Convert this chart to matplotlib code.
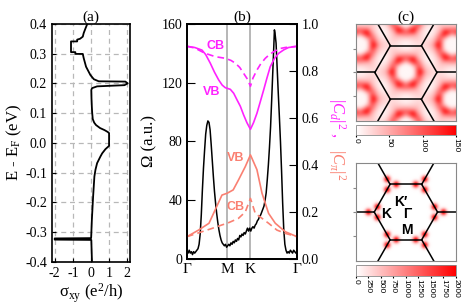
import numpy as np
import matplotlib
matplotlib.use('Agg')
import matplotlib.pyplot as plt
from matplotlib.colors import LinearSegmentedColormap

plt.rcParams['font.family'] = ['Liberation Serif', 'DejaVu Serif']
plt.rcParams['mathtext.fontset'] = 'custom'
plt.rcParams['mathtext.rm'] = 'Liberation Serif'
plt.rcParams['mathtext.it'] = 'Liberation Serif:italic'
plt.rcParams['axes.unicode_minus'] = False

# (a) anomalous Hall conductivity vs energy
energy = [0.400, 0.385, 0.369, 0.357, 0.350, 0.347, 0.341, 0.341, 0.305, 0.305,
          0.299, 0.299, 0.285, 0.256, 0.228, 0.214, 0.207, 0.206, 0.200, 0.194,
          0.190, 0.184, 0.178, 0.150, 0.120, 0.100, 0.080, 0.068, 0.060, 0.050,
          0.043, 0.037, 0.033, -0.010, -0.021, -0.035, -0.046, -0.068, -0.090,
          -0.113, -0.180, -0.259, -0.320, -0.321, -0.325, -0.326, -0.387, -0.400]
sigma_xy = [-0.20, -0.30, -0.40, -0.45, -0.60, -0.76, -0.76, -1.10, -1.10, -0.86,
            -0.86, -0.45, -0.40, -0.27, -0.03, 0.16, 0.43, 1.90, 2.03, 1.85,
            0.34, 0.06, 0.02, 0.03, 0.05, 0.07, 0.10, 0.18, 0.28, 0.50,
            0.75, 0.92, 1.00, 1.00, 0.80, 0.62, 0.52, 0.34, 0.25,
            0.19, 0.12, 0.05, 0.01, -2.00, -2.00, 0.02, 0.05, 0.06]
a_xticks = [-2, -1, 0, 1, 2]
a_yticks = [-0.4, -0.3, -0.2, -0.1, 0.0, 0.1, 0.2, 0.3, 0.4]
a_ylabels = ['-0.4', '-0.3', '-0.2', '-0.1', '0.0', '0.1', '0.2', '0.3', '0.4']

# (b) along Gamma-M-K-Gamma, k given as fraction of the path
k_ticks = [0.0, 0.366, 0.577, 1.0]
k_labels = ['Γ', 'M', 'K', 'Γ']

k_omega = [0.00, 0.01, 0.02, 0.03, 0.04, 0.05, 0.06, 0.07, 0.08, 0.09,
           0.10, 0.11, 0.12, 0.13, 0.14, 0.15, 0.16, 0.17, 0.18, 0.19,
           0.20, 0.21, 0.22, 0.23, 0.24, 0.25, 0.26, 0.27, 0.28, 0.29,
           0.30, 0.31, 0.32, 0.33, 0.34, 0.35, 0.36, 0.37, 0.38, 0.39,
           0.40, 0.41, 0.42, 0.43, 0.44, 0.45, 0.46, 0.47, 0.48, 0.49,
           0.50, 0.51, 0.52, 0.53, 0.54, 0.55, 0.56, 0.57, 0.58, 0.59,
           0.60, 0.61, 0.62, 0.63, 0.64, 0.65, 0.66, 0.67, 0.68, 0.69,
           0.70, 0.71, 0.72, 0.73, 0.74, 0.75, 0.76, 0.77, 0.78, 0.79,
           0.795, 0.80, 0.81, 0.82, 0.83, 0.84, 0.85, 0.86, 0.87, 0.88, 0.89,
           0.90, 0.91, 0.92, 0.93, 0.94, 0.95, 0.96, 0.97, 0.98, 0.99, 1.00]
omega = [5, 4, 6, 4, 5, 3, 5, 4, 5, 6,
         7, 10, 17, 30, 47, 62, 74, 85, 91, 94,
         93, 88, 78, 67, 56, 46, 38, 31, 25, 20,
         16, 13, 11, 10, 9, 10, 8, 9, 10, 9,
         11, 10, 12, 11, 13, 12, 14, 13, 16, 15,
         17, 16, 18, 17, 19, 21, 19, 21, 19, 21,
         22, 21, 23, 24, 26, 27, 29, 30, 32, 34,
         36, 40, 45, 54, 64, 76, 90, 108, 127, 146,
         156, 154, 147, 130, 113, 97, 80, 60, 38, 20, 10,
         6, 4, 5, 4, 6, 5, 4, 6, 5, 4, 5]

k_vb_d = [0.0, 0.07, 0.136, 0.17, 0.212, 0.25, 0.288, 0.32, 0.348, 0.394, 0.425,
          0.455, 0.485, 0.515, 0.545, 0.577, 0.605, 0.636, 0.667, 0.697, 0.727,
          0.757, 0.795, 0.833, 0.88, 0.924, 1.0]
vb_d = [0.905, 0.90, 0.889, 0.87, 0.833, 0.795, 0.762, 0.74, 0.729, 0.722, 0.705,
        0.677, 0.65, 0.613, 0.58, 0.552, 0.58, 0.62, 0.67, 0.719, 0.77,
        0.818, 0.853, 0.875, 0.89, 0.90, 0.905]
k_cb_d = [0.0, 0.07, 0.136, 0.167, 0.257, 0.348, 0.40, 0.44, 0.48, 0.515, 0.55,
          0.577, 0.60, 0.636, 0.67, 0.712, 0.75, 0.788, 0.84, 0.894, 1.0]
cb_d = [0.905, 0.898, 0.882, 0.875, 0.861, 0.854, 0.845, 0.833, 0.815, 0.79, 0.765,
        0.735, 0.77, 0.804, 0.83, 0.854, 0.87, 0.882, 0.895, 0.90, 0.905]
k_vb_pi = [0.0, 0.105, 0.20, 0.27, 0.318, 0.366, 0.42, 0.468, 0.53, 0.577,
           0.636, 0.682, 0.742, 0.803, 0.894, 1.0]
vb_pi = [0.095, 0.123, 0.152, 0.223, 0.272, 0.28, 0.294, 0.336, 0.393, 0.443,
         0.38, 0.28, 0.194, 0.152, 0.116, 0.095]
k_cb_pi = [0.0, 0.136, 0.227, 0.318, 0.366, 0.468, 0.53, 0.577, 0.621, 0.682,
           0.742, 0.818, 0.894, 1.0]
cb_pi = [0.095, 0.116, 0.13, 0.145, 0.152, 0.173, 0.2, 0.258, 0.194, 0.173,
         0.152, 0.123, 0.109, 0.095]

# (c) colour scales and hot spots near the K points (units of |Gamma K|)
cbar_top_ticks = [0, 50, 100, 150]
cbar_bot_ticks = [0, 250, 500, 750, 1000, 1250, 1500, 1750, 2000]
spot_dist = 0.19
spot_width = 0.07
spot_peak = 2000
map_blur = 0.06

magenta = '#ff22ff'
salmon = '#fa8072'
wr = LinearSegmentedColormap.from_list('wr', ['white', 'red'])

fig = plt.figure(figsize=(4.64, 3.06), dpi=100)
ax_a = fig.add_axes([0.112, 0.144, 0.168, 0.778])
ax_b = fig.add_axes([0.403, 0.1536, 0.237, 0.768])
ax_c1 = fig.add_axes([0.767, 0.6046, 0.2155, 0.317])
cax1 = fig.add_axes([0.767, 0.559, 0.2155, 0.033])
ax_c2 = fig.add_axes([0.767, 0.147, 0.2155, 0.320])
cax2 = fig.add_axes([0.767, 0.098, 0.2155, 0.036])

# ---- (a)
ax_a.plot(sigma_xy, energy, color='k', lw=1.3)
ax_a.set_xlim(-2.15, 2.15)
ax_a.set_ylim(-0.4, 0.4)
ax_a.set_xticks(a_xticks)
ax_a.set_yticks(a_yticks)
ax_a.set_yticklabels(a_ylabels)
ax_a.grid(True, ls=(0, (4, 3)), color='#b8b8b8', lw=0.9)
ax_a.tick_params(direction='in', length=3, labelsize=10)
for s in ax_a.spines.values():
    s.set_linewidth(1.2)
ax_a.set_title('(a)', fontsize=11, pad=2)
ax_a.set_ylabel('E - E$_\\mathrm{F}$ (eV)', fontsize=12, labelpad=1)
ax_a.set_xlabel('σ$_\\mathrm{xy}$ (e$^2$/h)', fontsize=12, labelpad=1)

# ---- (b)
for kk in k_ticks[1:3]:
    ax_b.axvline(kk, color='#aaaaaa', lw=1.2, zorder=1)
ax_b.plot(k_omega, omega, color='k', lw=1.1, zorder=3)
ax_b.set_xlim(0, 1)
ax_b.set_ylim(0, 160)
ax_b.set_yticks([0, 40, 80, 120, 160])
ax_b.set_xticks(k_ticks)
ax_b.set_xticklabels(k_labels)
ax_b.tick_params(axis='y', direction='in', length=6, labelsize=10)
ax_b.tick_params(axis='x', length=0, labelsize=11, pad=3)
ax_b.set_ylabel('Ω (a.u.)', fontsize=12, labelpad=3)
ax_b.set_title('(b)', fontsize=11, pad=2)

ax_r = ax_b.twinx()
ax_r.plot(k_vb_d, vb_d, color=magenta, lw=1.2)
l1, = ax_r.plot(k_cb_d, cb_d, color=magenta, lw=1.2)
l1.set_dashes([4, 2.5])
ax_r.plot(k_vb_pi, vb_pi, color=salmon, lw=1.2)
l2, = ax_r.plot(k_cb_pi, cb_pi, color=salmon, lw=1.2)
l2.set_dashes([4, 2.5])
ax_r.set_ylim(0, 1.0)
ax_r.set_yticks([0.0, 0.2, 0.4, 0.6, 0.8, 1.0])
ax_r.set_yticklabels(['0.0', '0.2', '0.4', '0.6', '0.8', '1.0'])
ax_r.tick_params(axis='y', direction='in', length=6, labelsize=10)
for ax in (ax_b, ax_r):
    for s in ax.spines.values():
        s.set_linewidth(1.3)

bold = dict(family=['Liberation Sans', 'DejaVu Sans'], fontweight='bold',
            fontsize=9, ha='center', va='center')
ax_r.text(0.257, 0.905, 'CB', color=magenta, **bold)
ax_r.text(0.22, 0.712, 'VB', color=magenta, **bold)
ax_r.text(0.44, 0.428, 'VB', color=salmon, **bold)
ax_r.text(0.44, 0.223, 'CB', color=salmon, **bold)

fig.text(0.726, 0.616, '$|C_d|^2$ ,', color=magenta, rotation=270,
         ha='center', va='center', fontsize=12)
fig.text(0.726, 0.462, '$|C_\\pi|^2$', color=salmon, rotation=270,
         ha='center', va='center', fontsize=12)

# ---- (c) Brillouin zone geometry
ang = np.deg2rad(np.arange(0, 360, 60))
vx, vy = np.cos(ang), np.sin(ang)


def draw_bz(ax):
    for i in range(6):
        j = (i + 1) % 6
        ax.plot([vx[i], vx[j]], [vy[i], vy[j]], color='k', lw=1.1)
        ax.plot([vx[i], 2 * vx[i]], [vy[i], 2 * vy[i]], color='k', lw=1.1)


def blur(img, sig_px):
    n = int(3 * sig_px) + 1
    t = np.arange(-n, n + 1)
    g = np.exp(-t ** 2 / (2 * sig_px ** 2))
    g /= g.sum()
    img = np.apply_along_axis(lambda v: np.convolve(np.pad(v, n, mode='edge'), g, 'valid'), 0, img)
    img = np.apply_along_axis(lambda v: np.convolve(np.pad(v, n, mode='edge'), g, 'valid'), 1, img)
    return img


def omega_map(X, Y):
    L = 1 + 0.5 + np.sqrt(3) / 2
    b1 = (0.0, np.sqrt(3))
    b2 = (1.5, np.sqrt(3) / 2)
    best = np.full(X.shape, np.inf)
    KX, KY = X.copy(), Y.copy()
    for n1 in range(-2, 3):
        for n2 in range(-2, 3):
            gx = n1 * b1[0] + n2 * b2[0]
            gy = n1 * b1[1] + n2 * b2[1]
            dx, dy = X - gx, Y - gy
            d = dx * dx + dy * dy
            m = d < best
            best[m] = d[m]
            KX[m] = dx[m]
            KY[m] = dy[m]
    r = np.hypot(KX, KY)
    th = np.mod(np.arctan2(KY, KX), np.pi / 3)
    phi = np.minimum(th, np.pi / 3 - th)
    edge = (np.sqrt(3) / 2) / np.cos(np.pi / 6 - phi)
    s = np.clip(r / edge, 0, 1)
    fM = np.interp(s * (np.sqrt(3) / 2) / L, k_omega, omega)
    fK = np.interp(1 - s / L, k_omega, omega)
    w = np.sin(3 * phi) ** 2
    return (1 - w) * fK + w * fM


ext1 = (-1.61, 1.61, -1.565, 1.565)
npx = 320
X, Y = np.meshgrid(np.linspace(ext1[0], ext1[1], npx),
                   np.linspace(ext1[2], ext1[3], npx))
field = blur(omega_map(X, Y), map_blur * npx / (ext1[1] - ext1[0]))
im1 = ax_c1.imshow(field, extent=ext1, origin='lower', cmap=wr,
                   vmin=0, vmax=150, aspect='auto', interpolation='bilinear')
draw_bz(ax_c1)
ax_c1.set_xlim(ext1[0], ext1[1])
ax_c1.set_ylim(ext1[2], ext1[3])
ax_c1.set_title('(c)', fontsize=11, pad=2)

ext2 = (-1.58, 1.58, -1.53, 1.53)
X2, Y2 = np.meshgrid(np.linspace(ext2[0], ext2[1], npx),
                     np.linspace(ext2[2], ext2[3], npx))
spots = np.zeros_like(X2)
for i in range(6):
    for d in ang[i] + np.deg2rad([0, 120, 240]):
        cx = vx[i] + spot_dist * np.cos(d)
        cy = vy[i] + spot_dist * np.sin(d)
        spots += spot_peak * np.exp(-((X2 - cx) ** 2 + (Y2 - cy) ** 2) / (2 * spot_width ** 2))
im2 = ax_c2.imshow(spots, extent=ext2, origin='lower', cmap=wr,
                   vmin=0, vmax=2000, aspect='auto', interpolation='bilinear')
draw_bz(ax_c2)
ax_c2.set_xlim(ext2[0], ext2[1])
ax_c2.set_ylim(ext2[2], ext2[3])
lab = dict(family=['Liberation Sans', 'DejaVu Sans'], fontweight='bold',
           fontsize=10, ha='center', va='center')
ax_c2.text(-0.17, 0.31, 'K′', **lab)
ax_c2.text(-0.63, -0.05, 'K', **lab)
ax_c2.text(0.04, -0.05, 'Γ', **lab)
ax_c2.text(0.04, -0.57, 'M', **lab)

for ax in (ax_c1, ax_c2):
    ax.set_xticks([])
    ax.set_yticks([-0.76, 0, 0.76])
    ax.tick_params(axis='y', length=2, labelleft=False, color='#888888')
    for s in ax.spines.values():
        s.set_color('#888888')
        s.set_linewidth(0.8)

for cax, im, ticks in ((cax1, im1, cbar_top_ticks), (cax2, im2, cbar_bot_ticks)):
    cb = fig.colorbar(im, cax=cax, orientation='horizontal', ticks=ticks)
    cb.outline.set_edgecolor('#888888')
    cb.outline.set_linewidth(0.6)
    cax.tick_params(labelsize=6, length=1.5, labelrotation=-90, pad=1,
                    labelfontfamily='Liberation Sans')
    for t in cax.get_xticklabels():
        t.set_va('top')

fig.savefig('out.png', dpi=100)
